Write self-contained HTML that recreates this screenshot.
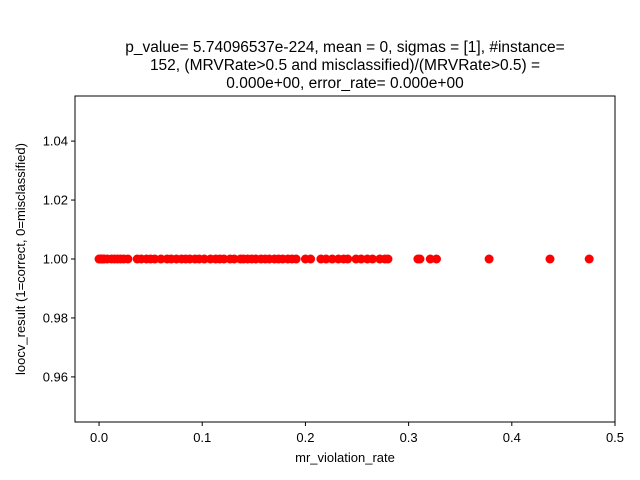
<!DOCTYPE html>
<html><head><meta charset="utf-8"><style>
body{margin:0;background:#fff;}
svg{display:block;font-family:"Liberation Sans","DejaVu Sans",sans-serif;}
</style></head><body>
<svg id="chart" width="640" height="480">
<rect width="640" height="480" fill="#fff"/>
<g font-size="15.5" text-anchor="middle" fill="#000">
<text x="345" y="52">p_value= 5.74096537e-224, mean = 0, sigmas = [1], #instance=</text>
<text x="345" y="70">152, (MRVRate&gt;0.5 and misclassified)/(MRVRate&gt;0.5) =</text>
<text x="345" y="88">0.000e+00, error_rate= 0.000e+00</text>
</g>
<g id="points"></g>
<rect x="75" y="96" width="540" height="326" fill="none" stroke="#000" stroke-width="1"/>
<g id="xt"></g>
<g id="yt"></g>
<text x="345" y="462" font-size="13" text-anchor="middle">mr_violation_rate</text>
<text transform="translate(25,259) rotate(-90)" font-size="13" text-anchor="middle">loocv_result (1=correct, 0=misclassified)</text>
</svg>
<script>
const xValues=[0,0.001,0.002,0.003,0.004,0.005,0.008,0.012,0.015,0.018,0.021,0.024,0.028,0.037,0.041,0.046,0.05,0.054,0.06,0.066,0.07,0.075,0.08,0.084,0.088,0.093,0.097,0.102,0.108,0.113,0.117,0.121,0.127,0.131,0.137,0.14,0.144,0.148,0.152,0.157,0.161,0.165,0.17,0.174,0.178,0.183,0.187,0.191,0.2,0.205,0.215,0.22,0.226,0.232,0.237,0.241,0.249,0.254,0.26,0.265,0.272,0.277,0.28,0.309,0.311,0.321,0.327,0.378,0.437,0.475];
const yValues=xValues.map(()=>1);
const xTicks=[0,0.1,0.2,0.3,0.4,0.5];
const xTickLabels=["0.0","0.1","0.2","0.3","0.4","0.5"];
const yTicks=[0.96,0.98,1.00,1.02,1.04];
const yTickLabels=["0.96","0.98","1.00","1.02","1.04"];
const L=75,R=615,T=96,B=422,xmin=-0.0233,xmax=0.5,ymin=0.9447,ymax=1.0553;
const sx=v=>L+(v-xmin)/(xmax-xmin)*(R-L);
const sy=v=>B-(v-ymin)/(ymax-ymin)*(B-T);
const NS="http://www.w3.org/2000/svg";
const pg=document.getElementById('points');
xValues.forEach((x,i)=>{const c=document.createElementNS(NS,'circle');
c.setAttribute('cx',sx(x));c.setAttribute('cy',sy(yValues[i]));c.setAttribute('r',4.5);c.setAttribute('fill','#ff0000');


pg.appendChild(c);});
const xg=document.getElementById('xt');
xTicks.forEach((v,i)=>{const x=sx(v);
const l=document.createElementNS(NS,'line');l.setAttribute('x1',x);l.setAttribute('x2',x);l.setAttribute('y1',B);l.setAttribute('y2',B+4);l.setAttribute('stroke','#000');


xg.appendChild(l);
const t=document.createElementNS(NS,'text');t.setAttribute('x',x);t.setAttribute('y',442);t.setAttribute('font-size','13');t.setAttribute('text-anchor','middle');t.textContent=xTickLabels[i];


xg.appendChild(t);});
const yg=document.getElementById('yt');
yTicks.forEach((v,i)=>{const y=sy(v);
const l=document.createElementNS(NS,'line');l.setAttribute('x1',L-4);l.setAttribute('x2',L);l.setAttribute('y1',y);l.setAttribute('y2',y);l.setAttribute('stroke','#000');


yg.appendChild(l);
const t=document.createElementNS(NS,'text');t.setAttribute('x',L-7);t.setAttribute('y',y+4.5);t.setAttribute('font-size','13');t.setAttribute('text-anchor','end');t.textContent=yTickLabels[i];


yg.appendChild(t);});
</script>
</body></html>
